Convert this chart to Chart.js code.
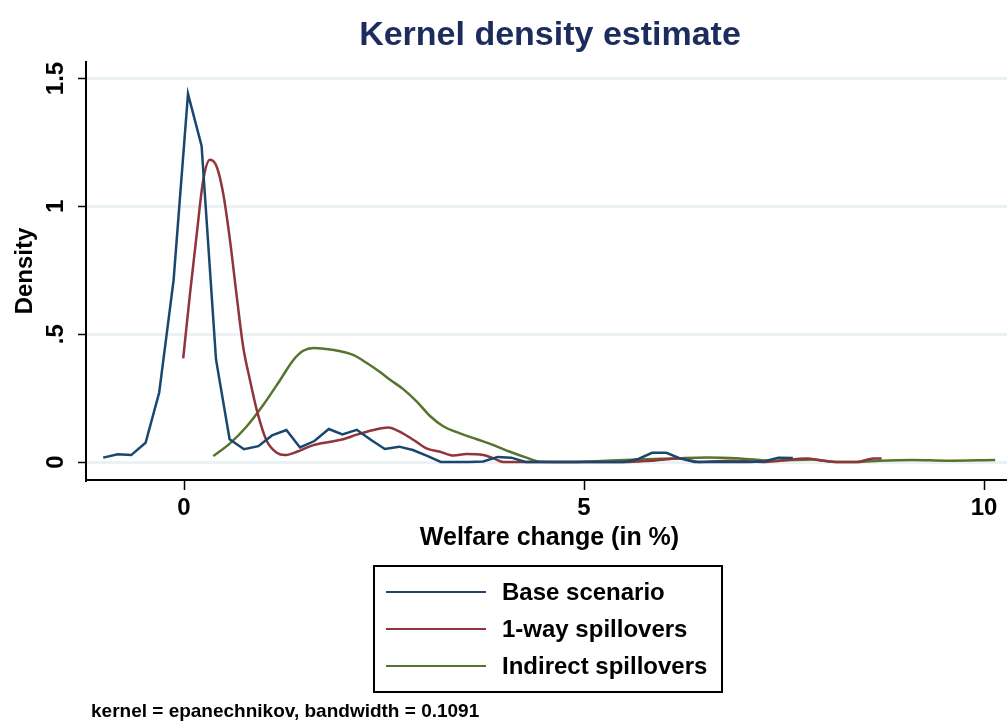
<!DOCTYPE html>
<html>
<head>
<meta charset="utf-8">
<script src="https://cdn.jsdelivr.net/npm/chart.js@4.4.1/dist/chart.umd.min.js"></script>
<style>
    html, body { margin: 0; padding: 0; background: #fff; }
    #wrap { position: relative; width: 1007px; height: 722px; }
</style>
</head>
<body>
<div id="wrap"><canvas id="kde" width="1007" height="722"></canvas></div>
<script>
// Base scenario (kdensity grid points)
const baseX = [-1.01, -0.83, -0.66, -0.48, -0.31, -0.13, 0.05, 0.22, 0.40, 0.57,
    0.75, 0.93, 1.10, 1.28, 1.45, 1.63, 1.81, 1.98, 2.16, 2.33,
    2.51, 2.69, 2.86, 3.04, 3.21, 3.39, 3.56, 3.74, 3.92, 4.09,
    4.27, 4.44, 4.62, 4.80, 4.97, 5.15, 5.32, 5.50, 5.68, 5.85,
    6.03, 6.20, 6.38, 6.56, 6.73, 6.91, 7.08, 7.26, 7.43, 7.61];
const baseY = [0.017, 0.030, 0.027, 0.075, 0.272, 0.711, 1.440, 1.236, 0.401, 0.089,
    0.050, 0.062, 0.104, 0.125, 0.057, 0.082, 0.129, 0.108, 0.126, 0.088,
    0.051, 0.060, 0.047, 0.024, 0.000, 0.000, 0.000, 0.002, 0.020, 0.017,
    0.000, 0.000, 0.000, 0.000, 0.000, 0.000, 0.000, 0.000, 0.012, 0.036,
    0.036, 0.014, 0.000, 0.000, 0.000, 0.000, 0.000, 0.003, 0.017, 0.016];

// 1-way spillovers
const oneWayX = [-0.01, 0.075, 0.16, 0.24, 0.325, 0.41, 0.49, 0.575, 0.66, 0.74,
    0.825, 0.91, 1.03, 1.16, 1.26, 1.41, 1.62, 1.83, 1.99, 2.16,
    2.37, 2.55, 2.70, 2.87, 3.03, 3.20, 3.37, 3.53, 3.74, 3.87,
    3.99, 4.5, 5.0, 5.5, 5.83, 6.2, 6.45, 6.83, 7.24, 7.45,
    7.78, 7.99, 8.2, 8.41, 8.62, 8.72];
const oneWayY = [0.405, 0.659, 0.893, 1.102, 1.182, 1.154, 1.050, 0.867, 0.646, 0.450,
    0.320, 0.203, 0.085, 0.036, 0.027, 0.040, 0.066, 0.079, 0.089, 0.107,
    0.125, 0.135, 0.118, 0.086, 0.053, 0.040, 0.025, 0.031, 0.027, 0.014,
    0.000, 0.000, 0.000, 0.000, 0.005, 0.014, 0.000, 0.005, 0.000, 0.005,
    0.014, 0.005, 0.000, 0.000, 0.014, 0.014];

// Indirect spillovers
const indirectX = [0.366, 0.575, 0.78, 0.99, 1.2, 1.37, 1.49, 1.62, 1.83, 2.12,
    2.28, 2.45, 2.575, 2.74, 2.91, 3.075, 3.24, 3.45, 3.66, 3.87,
    4.075, 4.28, 4.45, 4.86, 5.28, 5.7, 6.12, 6.53, 6.95, 7.36,
    7.86, 8.16, 8.41, 8.7, 9.11, 9.53, 10.14];
const indirectY = [0.023, 0.073, 0.138, 0.223, 0.320, 0.400, 0.435, 0.446, 0.440, 0.418,
    0.388, 0.352, 0.322, 0.285, 0.236, 0.180, 0.140, 0.112, 0.089, 0.066,
    0.040, 0.017, 0.001, 0.000, 0.005, 0.010, 0.014, 0.018, 0.014, 0.005,
    0.010, 0.000, 0.000, 0.005, 0.008, 0.005, 0.008];

const xTicks = [0, 5, 10];
const yTicks = [0, 0.5, 1, 1.5];
const yTickLabels = ['0', '.5', '1', '1.5'];
const seriesNames = ['Base scenario', '1-way spillovers', 'Indirect spillovers'];
const seriesColors = ['#1a476f', '#90353b', '#55752f'];

const FONT = '"Liberation Sans", Arial, sans-serif';

function toPoints(xs, ys) {
    return xs.map((x, i) => ({ x: x, y: ys[i] }));
}

// draws title, axis labels, legend and note
const textPlugin = {
    id: 'stataText',
    afterDraw(chart) {
        const ctx = chart.ctx;
        const area = chart.chartArea;
        const xs = chart.scales.x;
        const ys = chart.scales.y;
        ctx.save();

        // title
        ctx.fillStyle = '#1c2c5c';
        ctx.font = 'bold 34px ' + FONT;
        ctx.textAlign = 'center';
        ctx.textBaseline = 'middle';
        ctx.fillText('Kernel density estimate', 550, 36);

        // x tick labels + title
        ctx.fillStyle = '#000';
        ctx.font = 'bold 24px ' + FONT;
        xTicks.forEach(v => {
            ctx.fillText(String(v), xs.getPixelForValue(v), area.bottom + 28);
        });
        ctx.font = 'bold 25px ' + FONT;
        ctx.fillText('Welfare change (in %)', (area.left + area.right) / 2 + 3, area.bottom + 58);

        // y tick labels (rotated)
        ctx.font = 'bold 24px ' + FONT;
        yTicks.forEach((v, i) => {
            ctx.save();
            ctx.translate(56, ys.getPixelForValue(v));
            ctx.rotate(-Math.PI / 2);
            ctx.fillText(yTickLabels[i], 0, 0);
            ctx.restore();
        });
        ctx.save();
        ctx.translate(25, (area.top + area.bottom) / 2);
        ctx.rotate(-Math.PI / 2);
        ctx.fillText('Density', 0, 0);
        ctx.restore();

        // legend box
        const lx = 374, ly = 566, lw = 348, lh = 126;
        ctx.strokeStyle = '#000';
        ctx.lineWidth = 2;
        ctx.strokeRect(lx, ly, lw, lh);
        ctx.textAlign = 'left';
        chart.data.datasets.forEach((ds, i) => {
            const rowY = 592 + i * 37;
            ctx.strokeStyle = ds.borderColor;
            ctx.lineWidth = 2;
            ctx.beginPath();
            ctx.moveTo(386, rowY);
            ctx.lineTo(486, rowY);
            ctx.stroke();
            ctx.fillStyle = '#000';
            ctx.fillText(ds.label, 502, rowY + 1);
        });

        // note
        ctx.font = 'bold 19px ' + FONT;
        ctx.fillText('kernel = epanechnikov, bandwidth = 0.1091', 91, 712);

        ctx.restore();
    }
};

const chart = new Chart(document.getElementById('kde'), {
    type: 'line',
    data: {
        datasets: [
            {
                label: seriesNames[0],
                data: toPoints(baseX, baseY),
                borderColor: seriesColors[0],
                borderWidth: 2.5,
                pointRadius: 0,
                tension: 0,
                fill: false
            },
            {
                label: seriesNames[1],
                data: toPoints(oneWayX, oneWayY),
                borderColor: seriesColors[1],
                borderWidth: 2.5,
                pointRadius: 0,
                cubicInterpolationMode: 'monotone',
                fill: false
            },
            {
                label: seriesNames[2],
                data: toPoints(indirectX, indirectY),
                borderColor: seriesColors[2],
                borderWidth: 2.5,
                pointRadius: 0,
                cubicInterpolationMode: 'monotone',
                fill: false
            }
        ]
    },
    options: {
        responsive: false,
        animation: false,
        devicePixelRatio: 1,
        layout: { padding: { top: 62, left: 0, right: 0, bottom: 0 } },
        plugins: {
            legend: { display: false },
            title: { display: false },
            tooltip: { enabled: false }
        },
        scales: {
            x: {
                type: 'linear',
                min: -1.225,
                max: 10.2875,
                afterBuildTicks: s => { s.ticks = xTicks.map(v => ({ value: v })); },
                afterFit: s => { s.height = 242; },
                ticks: { display: false },
                grid: {
                    drawOnChartArea: false,
                    drawTicks: true,
                    tickLength: 10,
                    tickColor: '#000',
                    tickWidth: 1.5
                },
                border: { display: true, color: '#000', width: 2 }
            },
            y: {
                type: 'linear',
                min: -0.0704,
                max: 1.5645,
                afterBuildTicks: s => { s.ticks = yTicks.map(v => ({ value: v })); },
                afterFit: s => { s.width = 86; },
                ticks: { display: false },
                grid: {
                    color: '#eaf2f3',
                    lineWidth: 3,
                    drawTicks: true,
                    tickLength: 8,
                    tickColor: '#000',
                    tickWidth: 1.5
                },
                border: { display: true, color: '#000', width: 2 }
            }
        }
    },
    plugins: [textPlugin]
});
</script>
</body>
</html>
